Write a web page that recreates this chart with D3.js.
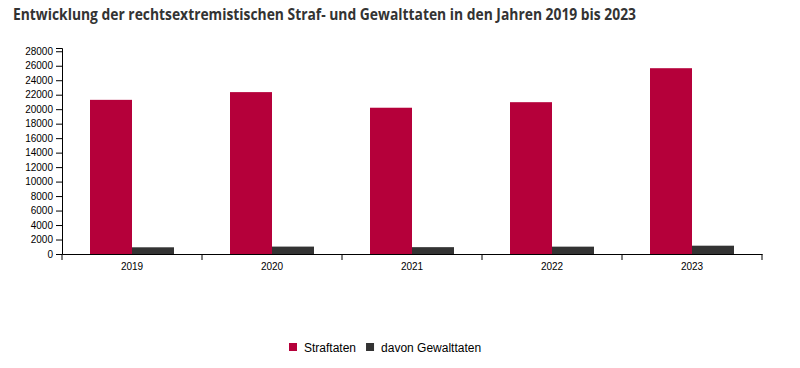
<!DOCTYPE html>
<html>
<head>
<meta charset="utf-8">
<script src="https://cdn.jsdelivr.net/npm/d3@7"></script>
<style>
  body { margin: 0; background: #fff; }
  svg { display: block; }
  .tick text { font-family: "Liberation Sans", Arial, sans-serif; font-size: 10px; fill: #000; }
</style>
</head>
<body>
<svg id="chart" width="800" height="368"></svg>
<script>
var title = "Entwicklung der rechtsextremistischen Straf- und Gewalttaten in den Jahren 2019 bis 2023";
var years = ["2019", "2020", "2021", "2022", "2023"];
var series = ["Straftaten", "davon Gewalttaten"];
var straftaten = [21290, 22357, 20201, 20967, 25660];
var gewalttaten = [925, 1023, 945, 1016, 1148];
var yTicks = [0, 2000, 4000, 6000, 8000, 10000, 12000, 14000, 16000, 18000, 20000, 22000, 24000, 26000, 28000];
var yMax = 28450;
var colors = ["#b5003a", "#333333"];

var svg = d3.select("#chart");
var plotLeft = 62, plotRight = 762, plotTop = 48, plotBottom = 254;

// title
var t = svg.append("text")
  .attr("x", 13)
  .attr("y", 20)
  .attr("fill", "#333")
  .style("font-family", "'Open Sans', sans-serif")
  .style("font-weight", 700)
  .style("font-size", "16px")
  .text(title);
t.attr("textLength", 623).attr("lengthAdjust", "spacingAndGlyphs");

var x0 = d3.scaleBand().domain(years).range([plotLeft, plotRight]);
var x1 = d3.scaleBand().domain(series)
  .range([x0.bandwidth() * 0.2, x0.bandwidth() * 0.8]);
var y = d3.scaleLinear().domain([0, yMax]).range([plotBottom, plotTop]);

var rows = years.map((yr, i) => ({ year: yr, values: [straftaten[i], gewalttaten[i]] }));

// bars
var group = svg.append("g")
  .selectAll("g")
  .data(rows)
  .enter()
  .append("g")
  .attr("transform", d => "translate(" + x0(d.year) + ",0)");

group.selectAll("rect")
  .data(d => d.values.map((v, j) => ({ key: series[j], value: v, color: colors[j] })))
  .enter()
  .append("rect")
  .attr("x", d => x1(d.key))
  .attr("width", x1.bandwidth())
  .attr("y", d => y(d.value))
  .attr("height", d => plotBottom - y(d.value))
  .attr("fill", d => d.color);

// y axis
var yAxis = svg.append("g")
  .attr("transform", "translate(" + plotLeft + ",0)")
  .call(d3.axisLeft(y).tickValues(yTicks).tickFormat(d3.format("d")));
yAxis.selectAll("path, line").attr("stroke", "#000");

// x axis
var xAxis = svg.append("g")
  .attr("transform", "translate(0," + plotBottom + ")")
  .call(d3.axisBottom(x0).tickSize(0).tickSizeOuter(0));
xAxis.select(".domain").attr("stroke", "#000");
xAxis.selectAll(".tick text").attr("y", 9);

var bounds = years.map(d => x0(d)).concat([x0.range()[1]]);
xAxis.selectAll(".bound")
  .data(bounds)
  .enter()
  .append("line")
  .attr("class", "bound")
  .attr("x1", d => d)
  .attr("x2", d => d)
  .attr("y1", 0)
  .attr("y2", 6)
  .attr("stroke", "#000");

// legend
var legend = svg.append("g").attr("transform", "translate(289,343)");
var lx = 0;
series.forEach((s, i) => {
  legend.append("rect")
    .attr("x", lx)
    .attr("y", 0)
    .attr("width", 8)
    .attr("height", 8)
    .attr("fill", colors[i]);
  var txt = legend.append("text")
    .attr("x", lx + 15)
    .attr("y", 9)
    .style("font-family", "'Liberation Sans', Arial, sans-serif")
    .style("font-size", "12px")
    .attr("fill", "#000")
    .text(s);
  lx += 15 + txt.node().getComputedTextLength() + 10;
});
</script>
</body>
</html>
